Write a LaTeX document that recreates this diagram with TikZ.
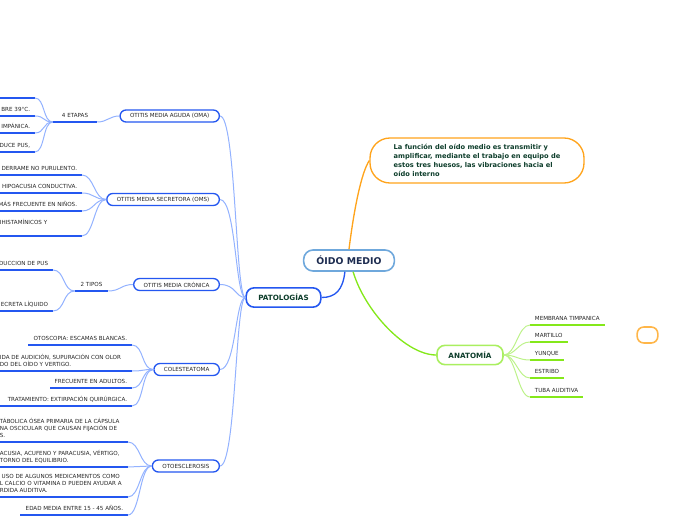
\documentclass[tikz,border=0pt]{standalone}
\usepackage{fontspec}
\setmainfont{DejaVu Sans}
\usetikzlibrary{positioning}
\definecolor{navy}{HTML}{1C2B4F}
\definecolor{dgreen}{HTML}{0D3D2B}
\definecolor{pblue}{HTML}{2457F0}
\definecolor{lblue}{HTML}{93B2FF}
\definecolor{mblue}{HTML}{6FA8DC}
\definecolor{lime}{HTML}{84E81A}
\definecolor{lgreen}{HTML}{BDF28A}
\definecolor{orng}{HTML}{FFA41C}
\tikzset{
  mainbox/.style={draw=mblue,line width=1.2pt,rounded corners=7pt,fill=white,minimum width=68pt,minimum height=15.75pt,font=\fontsize{7}{8}\selectfont\bfseries,text=navy},
  notebox/.style={draw=orng,line width=1pt,rounded corners=15pt,fill=white,minimum width=160.5pt,minimum height=33.75pt,align=left,font=\fontsize{5}{6.75}\selectfont\bfseries,text=dgreen},
  catbox/.style={line width=1.2pt,rounded corners=6pt,fill=white,minimum height=14.5pt,font=\fontsize{5.4}{6}\selectfont\bfseries,text=dgreen},
  box/.style={draw=pblue,line width=1pt,rounded corners=4.5pt,fill=white,minimum height=9pt,inner xsep=7.5pt,inner ysep=0pt,font=\fontsize{4.2}{5}\selectfont,text=black!85},
  item/.style={inner xsep=3.5pt,inner ysep=3pt,align=left,font=\fontsize{4.2}{5.25}\selectfont,text=black!85},
  uline/.style={pblue,line width=1.5pt},
  gline/.style={lime,line width=1.5pt},
  iconn/.style={lblue,line width=0.75pt},
  gconn/.style={lgreen,line width=0.75pt},
}
\begin{document}
\begin{tikzpicture}[x=0.75pt,y=-0.75pt]
\useasboundingbox (0,0) rectangle (696,520);
% center and first level
\node[mainbox] (main) at (349,260.5) {ÓIDO MEDIO};
\node[notebox] (nota) at (477,160.5) {La función del oído medio es transmitir y\\amplificar, mediante el trabajo en equipo de\\estos tres huesos, las vibraciones hacia el\\oído interno};
\node[catbox,draw=pblue,minimum width=56pt] (pat) at (283.5,297.5) {PATOLOGÍAS};
\node[catbox,draw=lime!70,minimum width=49.5pt] (ana) at (470,355) {ANATOMÍA};
\node[draw=orng!80,line width=1.2pt,rounded corners=5pt,minimum width=15.5pt,minimum height=12pt] (vacio) at (647.5,335) {};
\draw[orng,line width=1pt] (main.north) .. controls +(5,-40) and +(-8,12) .. (nota.west);
\draw[pblue,line width=1pt] (main.250) .. controls +(-2,18) and +(14,0) .. (pat.east);
\draw[lime,line width=1pt] (main.290) .. controls +(12,40) and +(-30,0) .. (ana.west);
% patologias
\foreach \n/\y/\t in {oma/116/OTITIS MEDIA AGUDA (OMA),oms/199.5/OTITIS MEDIA SECRETORA (OMS),ocr/284.5/OTITIS MEDIA CRÓNICA,col/369.5/COLESTEATOMA,oto/466/OTOESCLEROSIS}
  \node[box,anchor=east] (\n) at (220,\y) {\t};
\foreach \n in {oma,oms,ocr,col,oto}
  \draw[iconn] (pat.west) .. controls +(-10,0) and +(16,0) .. (\n.east);
\node[item,minimum width=33pt,anchor=south] (et4) at (75,122) {4 ETAPAS};
\node[item,minimum width=24.75pt,anchor=south] (tip2) at (91.5,291) {2 TIPOS};
\foreach \n in {et4,tip2}
  \draw[uline] (\n.south west) -- (\n.south east);
\draw[iconn] (oma.west) .. controls +(-10,0) and +(10,0) .. (et4.south east);
\draw[iconn] (ocr.west) .. controls +(-12,0) and +(12,0) .. (tip2.south east);
% items, one line
\coordinate (a1) at (35,98);
\draw[uline] (-5,98) -- (a1);
\foreach \n/\xs/\xe/\y/\t in {a2/-5/35/116/BRE 39°C.,a3/-5/35/133/IMPÁNICA.,a4/-5/35/152/{DUCE PUS,},
  b1/-5/82/175/DERRAME NO PURULENTO.,b2/-5/82/193/HIPOACUSIA CONDUCTIVA.,b3/-5/82/211/MÁS FRECUENTE EN NIÑOS.,
  c1/-5/53/270/DUCCION DE PUS,c2/-5/53/311/ECRETA LÍQUIDO,
  d1/28/132/345/OTOSCOPIA: ESCAMAS BLANCAS.,d3/50/132/388/FRECUENTE EN ADULTOS.,d4/-5/132/406/TRATAMIENTO: EXTIRPACIÓN QUIRÚRGICA.,
  e4/20/128/515/EDAD MEDIA ENTRE 15 - 45 AÑOS.}{
  \coordinate (\n) at (\xe,\y);
  \draw[uline] (\xs,\y) -- (\n);
  \node[item,anchor=south east] (\n t) at (\n) {\t};
}
% items, several lines
\foreach \n/\xe/\y/\t in {b4/82/236/{IHISTAMÍNICOS Y\\\mbox{}},
  d2/132/371/{IDA DE AUDICIÓN, SUPURACIÓN CON OLOR\\DO DEL OÍDO Y VERTIGO.},
  e1/128/442/{TÁBOLICA ÓSEA PRIMARIA DE LA CÁPSULA\\NA OSCICULAR QUE CAUSAN FIJACIÓN DE\\S.},
  e2/128/467/{ACUSIA, ACUFENO Y PARACUSIA, VÉRTIGO,\\TORNO DEL EQUILIBRIO.},
  e3/128/497/{\ USO DE ALGUNOS MEDICAMENTOS COMO\\L CALCIO O VITAMINA D PUEDEN AYUDAR A\\RDIDA AUDITIVA.}}{
  \coordinate (\n) at (\xe,\y);
  \draw[uline] (-5,\y) -- (\n);
  \node[item,anchor=south west] (\n t) at (-5,\y) {\t};
}
\foreach \n in {a1,a2,a3,a4}
  \draw[iconn] (et4.south west) .. controls +(-10,0) and +(10,0) .. (\n);
\foreach \n in {b1,b2,b3,b4}
  \draw[iconn] (oms.west) .. controls +(-12,0) and +(12,0) .. (\n);
\foreach \n in {c1,c2}
  \draw[iconn] (tip2.south west) .. controls +(-12,0) and +(12,0) .. (\n);
\foreach \n in {d1,d2,d3,d4}
  \draw[iconn] (col.west) .. controls +(-12,0) and +(12,0) .. (\n);
\foreach \n in {e1,e2,e3,e4}
  \draw[iconn] (oto.west) .. controls +(-12,0) and +(12,0) .. (\n);
% anatomia
\foreach \n/\y/\t in {m1/325/MEMBRANA TIMPANICA,m2/342/MARTILLO,m3/360/YUNQUE,m4/378/ESTRIBO,m5/397/TUBA AUDITIVA}{
  \node[item,anchor=south west] (\n) at (530,\y) {\t};
  \draw[gline] (\n.south west) -- (\n.south east);
  \draw[gconn] (ana.east) .. controls +(12,0) and +(-12,0) .. (\n.south west);
}
\end{tikzpicture}
\end{document}
